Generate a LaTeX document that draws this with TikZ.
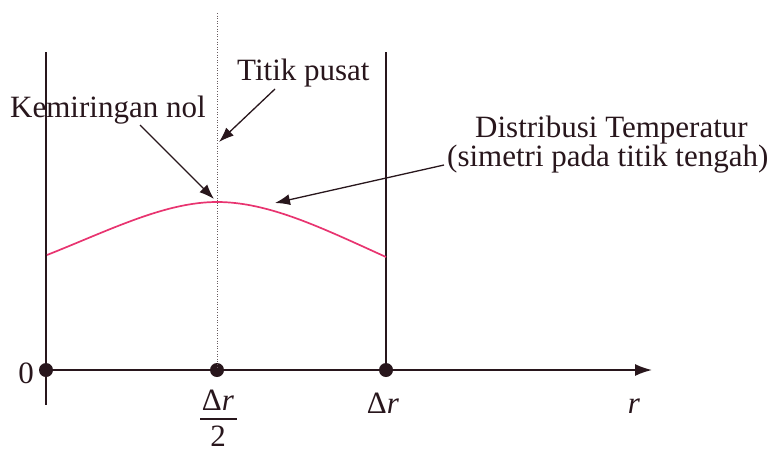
\documentclass[tikz,border=0pt]{standalone}
\usepackage{fontspec}
\setmainfont{Liberation Serif}
\usetikzlibrary{arrows.meta}
\definecolor{ink}{RGB}{40,22,28}
\definecolor{curvecol}{RGB}{232,52,112}
\begin{document}
\begin{tikzpicture}[x=1pt,y=-1pt,
  lbl/.style={inner sep=0pt, text=ink, font=\fontsize{31}{36}\selectfont},
  wall/.style={draw=ink, line width=1.7pt},
  guide/.style={draw=ink!70, line width=0.9pt, dash pattern=on 1pt off 1.6pt},
  pointer/.style={draw=ink, line width=1.3pt, -{Latex[length=15pt,width=11pt]}},
  dotnode/.style={circle, fill=ink, inner sep=0pt, minimum size=14pt},
  profile/.style={draw=curvecol, line width=1.7pt},
]
\useasboundingbox (0,0) rectangle (778,453);
% walls and guide
\coordinate (lt) at (46,52);
\coordinate (lb) at (46,405);
\coordinate (rt) at (386,52);
\coordinate (mt) at (217,13);
\coordinate (axend) at (652,370);
\draw[wall] (lt) -- (lb);
% axis
\node[dotnode] (o) at (46,370) {};
\node[dotnode] (m) at (217,370) {};
\node[dotnode] (e) at (386,370) {};
\draw[wall] (rt) -- (e.center);
\draw[guide] (mt) -- (m.center);
\draw[wall, -{Latex[length=17pt,width=12pt]}] (o.center) -- (axend);
% temperature profile
\coordinate (pl) at (47,255);
\coordinate (peak) at (217,202);
\coordinate (pr) at (386,257);
\draw[profile] (pl) .. controls (110,230) and (165,202) .. (peak)
  .. controls (269,202) and (322,228) .. (pr);
% axis labels
\node[lbl, anchor=base east] (zero) at (34,383) {0};
\node[lbl, anchor=base] (drh) at (218,410) {Δ\textit{r}};
\coordinate (barl) at (200,419);
\coordinate (barr) at (237,419);
\draw[draw=ink, line width=1.2pt] (barl) -- (barr);
\node[lbl, anchor=base] (two) at (218,446) {2};
\node[lbl, anchor=base] (dr) at (383,413) {Δ\textit{r}};
\node[lbl, anchor=base] (rr) at (634,413) {\textit{r}};
% annotations
\node[lbl, anchor=base west] (tp) at (237,80) {Titik pusat};
\node[lbl, anchor=base west] (kn) at (10,117) {Kemiringan nol};
\node[lbl, anchor=base west] (dt) at (475,137) {Distribusi Temperatur};
\node[lbl, anchor=base west] (sp) at (447,166) {(simetri pada titik tengah)};
\coordinate (tpA) at (275,89);
\coordinate (tpB) at (219,142);
\coordinate (knA) at (140,125);
\coordinate (knB) at (214,199);
\coordinate (spA) at (444,165);
\coordinate (spB) at (275,203);
\draw[pointer] (tpA) -- (tpB);
\draw[pointer] (knA) -- (knB);
\draw[pointer] (spA) -- (spB);
\end{tikzpicture}
\end{document}
